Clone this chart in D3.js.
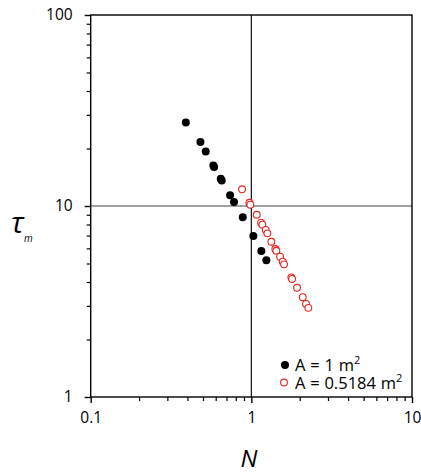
<!DOCTYPE html>
<html>
<head>
<meta charset="utf-8">
<script src="https://cdn.jsdelivr.net/npm/d3@7"></script>
<style>
  html, body { margin: 0; padding: 0; background: #fff; }
  svg { display: block; }
  text { font-family: "Open Sans", sans-serif; fill: #000; }
</style>
</head>
<body>
<svg id="chart" width="421" height="473"></svg>
<script>
// ---- Data ----
const seriesLabels = ["A = 1 m", "A = 0.5184 m"];
const blackN   = [0.391, 0.482, 0.520, 0.580, 0.586, 0.645, 0.654, 0.737, 0.780, 0.884, 1.029, 1.154, 1.240];
const blackTau = [27.4, 21.6, 19.3, 16.3, 16.0, 13.9, 13.6, 11.4, 10.5, 8.72, 6.97, 5.81, 5.20];
const redN   = [0.875, 0.972, 0.986, 1.080, 1.149, 1.171, 1.229, 1.258, 1.332, 1.410, 1.431, 1.509, 1.568, 1.598, 1.774, 1.792, 1.925, 2.088, 2.190, 2.263];
const redTau = [12.23, 10.40, 10.16, 9.00, 8.18, 7.98, 7.49, 7.19, 6.50, 5.95, 5.83, 5.43, 5.11, 4.95, 4.23, 4.15, 3.73, 3.33, 3.07, 2.93];
const xTickValues = [0.1, 1, 10];
const xTickLabels = ["0.1", "1", "10"];
const yTickValues = [1, 10, 100];
const yTickLabels = ["1", "10", "100"];

(function () {
  const svg = d3.select("#chart");
  const pL = 90.7, pR = 412, pT = 15, pB = 397;

  const x = d3.scaleLog().domain([0.1, 10]).range([pL, pR]);
  const y = d3.scaleLog().domain([1, 100]).range([pB, pT]);

  function minorTicks(dom) {
    const out = [];
    for (let d = dom[0]; d < dom[1] * 0.999; d *= 10) {
      for (let k = 2; k <= 9; k++) out.push(d * k);
    }
    return out;
  }

  // grid lines at 1 (x) and 10 (y)
  svg.append("line").attr("x1", pL).attr("x2", pR).attr("y1", y(10)).attr("y2", y(10))
    .attr("stroke", "#444").attr("stroke-width", 1.2);
  svg.append("line").attr("x1", x(1)).attr("x2", x(1)).attr("y1", pT).attr("y2", pB)
    .attr("stroke", "#111").attr("stroke-width", 1.2);

  // frame
  svg.append("rect").attr("x", pL).attr("y", pT).attr("width", pR - pL).attr("height", pB - pT)
    .attr("fill", "none").attr("stroke", "#000").attr("stroke-width", 1.4);

  // x axis
  const xAxis = d3.axisBottom(x).tickValues(xTickValues).tickFormat((d, i) => xTickLabels[i]).tickSize(6).tickPadding(9);
  const gx = svg.append("g").attr("transform", `translate(0,${pB})`).call(xAxis);
  gx.select(".domain").remove();
  gx.selectAll("line").attr("stroke", "#000").attr("stroke-width", 1.4);
  gx.selectAll("text").attr("font-size", 15.5).attr("font-family", "Open Sans, sans-serif").attr("fill", "#000");
  const xMinor = d3.axisBottom(x).tickValues(minorTicks(x.domain())).tickFormat("").tickSize(4);
  const gxm = svg.append("g").attr("transform", `translate(0,${pB})`).call(xMinor);
  gxm.select(".domain").remove();
  gxm.selectAll("line").attr("stroke", "#000").attr("stroke-width", 1.2);

  // y axis
  const yAxis = d3.axisLeft(y).tickValues(yTickValues).tickFormat((d, i) => yTickLabels[i]).tickSize(6).tickPadding(12);
  const gy = svg.append("g").attr("transform", `translate(${pL},0)`).call(yAxis);
  gy.select(".domain").remove();
  gy.selectAll("line").attr("stroke", "#000").attr("stroke-width", 1.4);
  gy.selectAll("text").attr("font-size", 15.5).attr("font-family", "Open Sans, sans-serif").attr("fill", "#000");
  const yMinor = d3.axisLeft(y).tickValues(minorTicks(y.domain())).tickFormat("").tickSize(4);
  const gym = svg.append("g").attr("transform", `translate(${pL},0)`).call(yMinor);
  gym.select(".domain").remove();
  gym.selectAll("line").attr("stroke", "#000").attr("stroke-width", 1.2);

  // data points
  const black = blackN.map((n, i) => ({ n, t: blackTau[i] }));
  const red = redN.map((n, i) => ({ n, t: redTau[i] }));

  svg.append("g").selectAll("circle").data(black).join("circle")
    .attr("cx", d => x(d.n)).attr("cy", d => y(d.t)).attr("r", 4)
    .attr("fill", "#000");

  svg.append("g").selectAll("circle").data(red).join("circle")
    .attr("cx", d => x(d.n)).attr("cy", d => y(d.t)).attr("r", 3.4)
    .attr("fill", "#fff").attr("stroke", "#e8231f").attr("stroke-width", 1.1);

  // axis titles
  svg.append("text").attr("x", 249).attr("y", 467).attr("text-anchor", "middle")
    .attr("font-size", 24).attr("font-style", "italic").text("N");
  const tl = svg.append("text").attr("x", 11).attr("y", 233).attr("font-size", 30).attr("font-style", "italic");
  tl.append("tspan").text("τ");
  tl.append("tspan").attr("x", 24).attr("y", 242).attr("font-size", 10).text("m");

  // legend
  const leg = svg.append("g");
  leg.append("circle").attr("cx", 285).attr("cy", 365).attr("r", 4).attr("fill", "#000");
  leg.append("circle").attr("cx", 284).attr("cy", 382.5).attr("r", 3.4)
    .attr("fill", "#fff").attr("stroke", "#e8231f").attr("stroke-width", 1.1);
  seriesLabels.forEach((lab, i) => {
    const t = leg.append("text").attr("x", 295).attr("y", 371 + i * 17.5)
      .attr("font-size", 16.5).attr("word-spacing", 0.5);
    t.append("tspan").text(lab);
    t.append("tspan").attr("dy", -7).attr("font-size", 11).text("2");
  });
})();
</script>
</body>
</html>
